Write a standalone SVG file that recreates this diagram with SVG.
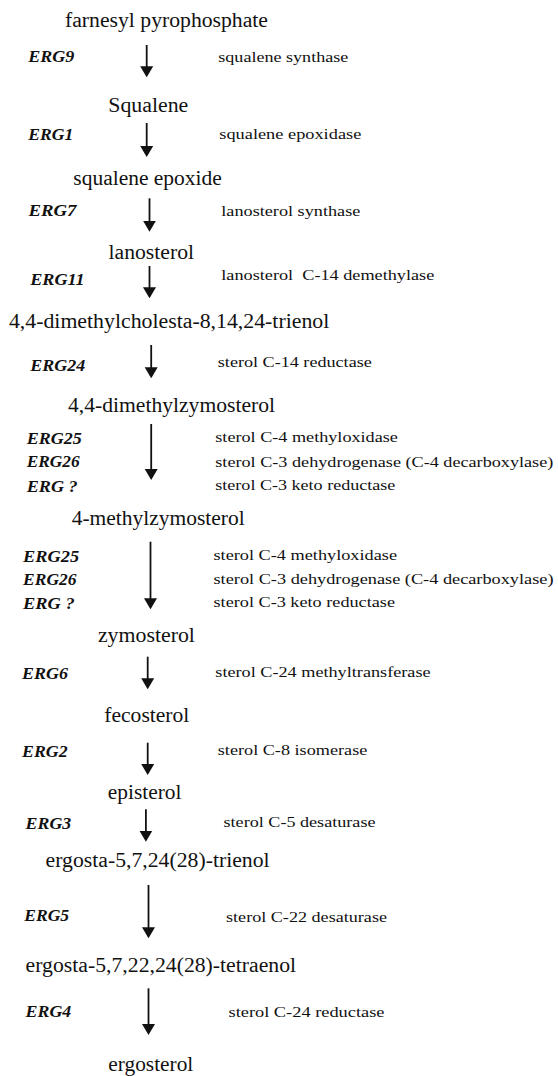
<svg xmlns="http://www.w3.org/2000/svg" width="558" height="1076" viewBox="0 0 558 1076">
  <style>
    text { font-family: 'Liberation Serif', Tinos, 'Times New Roman', Times, serif; fill: #111; }
    .cmp { font-size: 20px; }
    .gene { font-size: 17px; font-weight: bold; font-style: italic; }
    .enz { font-size: 15px; }
    .step { stroke: #111; stroke-width: 1.8; fill: none; marker-end: url(#head); }
  </style>
  <defs>
    <marker id="head" markerUnits="userSpaceOnUse" viewBox="0 -7 11 14" refX="7" refY="0" markerWidth="11" markerHeight="14" orient="auto">
      <path d="M0,-6.5 L11,0 L0,6.5 Z" fill="#111"/>
    </marker>
  </defs>
  <rect width="558" height="1076" fill="#fff"/>

  <!-- pathway intermediates -->
  <g id="n-fpp"><text class="cmp" x="65" y="26.5" textLength="203" lengthAdjust="spacingAndGlyphs">farnesyl pyrophosphate</text></g>
  <g id="n-squalene"><text class="cmp" x="108.3" y="111.5" textLength="80" lengthAdjust="spacingAndGlyphs">Squalene</text></g>
  <g id="n-squalene-epoxide"><text class="cmp" x="73.3" y="185" textLength="148.5" lengthAdjust="spacingAndGlyphs">squalene epoxide</text></g>
  <g id="n-lanosterol"><text class="cmp" x="108.5" y="258.5" textLength="85.5" lengthAdjust="spacingAndGlyphs">lanosterol</text></g>
  <g id="n-dimethylcholesta"><text class="cmp" x="8.9" y="328" textLength="320.4" lengthAdjust="spacingAndGlyphs">4,4-dimethylcholesta-8,14,24-trienol</text></g>
  <g id="n-dimethylzymosterol"><text class="cmp" x="68" y="412" textLength="207" lengthAdjust="spacingAndGlyphs">4,4-dimethylzymosterol</text></g>
  <g id="n-methylzymosterol"><text class="cmp" x="71.7" y="525" textLength="173" lengthAdjust="spacingAndGlyphs">4-methylzymosterol</text></g>
  <g id="n-zymosterol"><text class="cmp" x="97.9" y="641.5" textLength="97" lengthAdjust="spacingAndGlyphs">zymosterol</text></g>
  <g id="n-fecosterol"><text class="cmp" x="104.3" y="721.5" textLength="85" lengthAdjust="spacingAndGlyphs">fecosterol</text></g>
  <g id="n-episterol"><text class="cmp" x="107.8" y="798.5" textLength="73.7" lengthAdjust="spacingAndGlyphs">episterol</text></g>
  <g id="n-trienol"><text class="cmp" x="45.6" y="866.5" textLength="224" lengthAdjust="spacingAndGlyphs">ergosta-5,7,24(28)-trienol</text></g>
  <g id="n-tetraenol"><text class="cmp" x="25.6" y="971.5" textLength="270.5" lengthAdjust="spacingAndGlyphs">ergosta-5,7,22,24(28)-tetraenol</text></g>
  <g id="n-ergosterol"><text class="cmp" x="108.3" y="1070.5" textLength="85" lengthAdjust="spacingAndGlyphs">ergosterol</text></g>

  <!-- reaction steps -->
  <g id="connectors">
    <line class="step" x1="146.7" y1="45" x2="146.7" y2="73.3"/>
    <line class="step" x1="146.7" y1="123" x2="146.7" y2="153"/>
    <line class="step" x1="149.5" y1="198.3" x2="149.5" y2="227.7"/>
    <line class="step" x1="149.5" y1="266" x2="149.5" y2="294.3"/>
    <line class="step" x1="151.2" y1="345" x2="151.2" y2="374.3"/>
    <line class="step" x1="151.2" y1="424" x2="151.2" y2="476"/>
    <line class="step" x1="150.5" y1="541.7" x2="150.5" y2="605.3"/>
    <line class="step" x1="147.7" y1="656.7" x2="147.7" y2="685.3"/>
    <line class="step" x1="147.7" y1="742.7" x2="147.7" y2="771"/>
    <line class="step" x1="145.9" y1="809.3" x2="145.9" y2="837.7"/>
    <line class="step" x1="148.5" y1="885" x2="148.5" y2="934.3"/>
    <line class="step" x1="148.5" y1="988.3" x2="148.5" y2="1031"/>
  </g>

  <!-- genes and enzymes for each step -->
  <g id="s-erg9">
    <text class="gene" x="28.3" y="61.5" textLength="46" lengthAdjust="spacingAndGlyphs">ERG9</text>
    <text class="enz" x="218.3" y="62" textLength="130" lengthAdjust="spacingAndGlyphs">squalene synthase</text>
  </g>
  <g id="s-erg1">
    <text class="gene" x="28.3" y="140" textLength="45" lengthAdjust="spacingAndGlyphs">ERG1</text>
    <text class="enz" x="219.3" y="139" textLength="142" lengthAdjust="spacingAndGlyphs">squalene epoxidase</text>
  </g>
  <g id="s-erg7">
    <text class="gene" x="28.5" y="216" textLength="48" lengthAdjust="spacingAndGlyphs">ERG7</text>
    <text class="enz" x="221.3" y="216" textLength="139" lengthAdjust="spacingAndGlyphs">lanosterol synthase</text>
  </g>
  <g id="s-erg11">
    <text class="gene" x="30.2" y="285" textLength="54.5" lengthAdjust="spacingAndGlyphs">ERG11</text>
    <text class="enz" x="221.3" y="280" textLength="213" lengthAdjust="spacingAndGlyphs" xml:space="preserve">lanosterol  C-14 demethylase</text>
  </g>
  <g id="s-erg24">
    <text class="gene" x="30.2" y="371" textLength="55" lengthAdjust="spacingAndGlyphs">ERG24</text>
    <text class="enz" x="217.8" y="367" textLength="154" lengthAdjust="spacingAndGlyphs">sterol C-14 reductase</text>
  </g>
  <g id="s-demethylation-1">
    <text class="gene" x="26.7" y="443.5" textLength="55" lengthAdjust="spacingAndGlyphs">ERG25</text>
    <text class="gene" x="26.7" y="467" textLength="53" lengthAdjust="spacingAndGlyphs">ERG26</text>
    <text class="gene" x="26.7" y="491.5" textLength="51" lengthAdjust="spacingAndGlyphs">ERG ?</text>
    <text class="enz" x="215.3" y="441.5" textLength="182.6" lengthAdjust="spacingAndGlyphs">sterol C-4 methyloxidase</text>
    <text class="enz" x="215.3" y="466.5" textLength="338" lengthAdjust="spacingAndGlyphs">sterol C-3 dehydrogenase (C-4 decarboxylase)</text>
    <text class="enz" x="215.3" y="490" textLength="180" lengthAdjust="spacingAndGlyphs">sterol C-3 keto reductase</text>
  </g>
  <g id="s-demethylation-2">
    <text class="gene" x="23.1" y="561.5" textLength="56" lengthAdjust="spacingAndGlyphs">ERG25</text>
    <text class="gene" x="23.1" y="585" textLength="53.4" lengthAdjust="spacingAndGlyphs">ERG26</text>
    <text class="gene" x="23.1" y="608.5" textLength="51.6" lengthAdjust="spacingAndGlyphs">ERG ?</text>
    <text class="enz" x="213.5" y="560" textLength="183.5" lengthAdjust="spacingAndGlyphs">sterol C-4 methyloxidase</text>
    <text class="enz" x="213.5" y="583.5" textLength="340" lengthAdjust="spacingAndGlyphs">sterol C-3 dehydrogenase (C-4 decarboxylase)</text>
    <text class="enz" x="213.5" y="607" textLength="181.5" lengthAdjust="spacingAndGlyphs">sterol C-3 keto reductase</text>
  </g>
  <g id="s-erg6">
    <text class="gene" x="22" y="678.5" textLength="46" lengthAdjust="spacingAndGlyphs">ERG6</text>
    <text class="enz" x="215.3" y="677" textLength="215.3" lengthAdjust="spacingAndGlyphs">sterol C-24 methyltransferase</text>
  </g>
  <g id="s-erg2">
    <text class="gene" x="22" y="756.5" textLength="45.6" lengthAdjust="spacingAndGlyphs">ERG2</text>
    <text class="enz" x="217.8" y="755" textLength="149.5" lengthAdjust="spacingAndGlyphs">sterol C-8 isomerase</text>
  </g>
  <g id="s-erg3">
    <text class="gene" x="25.6" y="828.5" textLength="45.6" lengthAdjust="spacingAndGlyphs">ERG3</text>
    <text class="enz" x="223.5" y="827" textLength="152" lengthAdjust="spacingAndGlyphs">sterol C-5 desaturase</text>
  </g>
  <g id="s-erg5">
    <text class="gene" x="24.2" y="921" textLength="45" lengthAdjust="spacingAndGlyphs">ERG5</text>
    <text class="enz" x="226" y="921.5" textLength="161" lengthAdjust="spacingAndGlyphs">sterol C-22 desaturase</text>
  </g>
  <g id="s-erg4">
    <text class="gene" x="25.6" y="1016.5" textLength="45.6" lengthAdjust="spacingAndGlyphs">ERG4</text>
    <text class="enz" x="228.5" y="1016.5" textLength="156" lengthAdjust="spacingAndGlyphs">sterol C-24 reductase</text>
  </g>
</svg>
